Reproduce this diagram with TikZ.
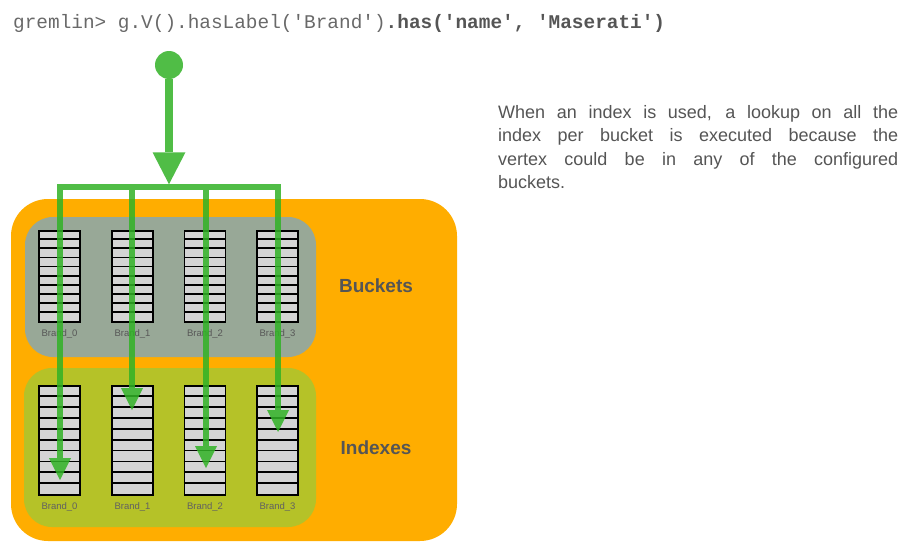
\documentclass[tikz,border=0pt]{standalone}
\usepackage{fontspec}
\setmainfont{Liberation Sans}
\setmonofont{Liberation Mono}
\usetikzlibrary{arrows.meta,positioning}
\definecolor{flowgreen}{RGB}{49,178,38}
\definecolor{boxorange}{RGB}{255,173,0}
\definecolor{bktgray}{RGB}{152,168,151}
\definecolor{idxolive}{RGB}{181,194,40}
\definecolor{cellgray}{RGB}{212,212,212}
\definecolor{textgray}{RGB}{85,85,85}
\definecolor{cmdgray}{RGB}{105,105,105}

\begin{document}
\begin{tikzpicture}[x=1pt,y=-1pt,line join=miter,
      flow/.style={line width=5.5pt,draw=flowgreen,opacity=.85},
      tip/.style={-{Triangle[width=22pt,length=22pt,line width=0pt]}},
      tbl/.style={draw=black,line width=1.8pt,fill=cellgray,minimum width=41pt,inner sep=0pt},
      rowline/.style={draw=black,line width=1.8pt},
      brand/.style={font=\fontsize{9.5}{11}\selectfont,text=black!62,inner sep=1pt},
      tag/.style={font=\bfseries\fontsize{19}{22}\selectfont,text=textgray},
      note/.style={font=\fontsize{18}{22}\selectfont,text=textgray,inner sep=0pt,anchor=base west}]
  \useasboundingbox (0,0) rectangle (913,557);

  \node[anchor=base west,inner sep=0pt,text=textgray,font=\ttfamily\fontsize{19.4}{22}\selectfont] (cmd) at (13,28)
    {\textcolor{cmdgray}{gremlin> g.V().hasLabel('Brand')}\textbf{.has('name', 'Maserati')}};

  \node[note] (note1) at (498,118) {\makebox[400pt][s]{When an index is used, a lookup on all the}};
  \node[note] (note2) at (498,141.5) {\makebox[400pt][s]{index per bucket is executed because the}};
  \node[note] (note3) at (498,165) {\makebox[400pt][s]{vertex could be in any of the configured}};
  \node[note] (note4) at (498,188.5) {buckets.};

  \fill[boxorange,rounded corners=37pt] (11,199) rectangle (457,541);
  \fill[bktgray,rounded corners=28pt] (25,217) rectangle (316,357);
  \fill[idxolive,rounded corners=28pt] (24,368) rectangle (316,527);

  \node[tag] (buckets) at (376,286) {Buckets};
  \node[tag] (indexes) at (376,448) {Indexes};

  \foreach \i/\x in {0/59.5,1/132.5,2/205,3/277.5}{
    \node[tbl,minimum height=91pt,label={[brand,text=black!66,label distance=6pt]below:Brand\_\i}] (bkt\i) at (\x,276.5) {};
    \foreach \k in {1,...,9} \draw[rowline] ([yshift=-\k*9.1pt]bkt\i.north west) -- ++(41,0);
    \node[tbl,minimum height=109pt,label={[brand,label distance=6pt]below:Brand\_\i}] (idx\i) at (\x,440.5) {};
    \foreach \k in {1,...,9} \draw[rowline] ([yshift=-\k*10.9pt]idx\i.north west) -- ++(41,0);
  }

  \node[circle,fill=flowgreen,opacity=.85,minimum size=28pt,inner sep=0pt] (start) at (169,65) {};
  \coordinate (split) at (169,184.25);
  \coordinate (bar0) at (60,187);
  \coordinate (bar3) at (278,187);
  \coordinate (j1) at (132,189.75);
  \coordinate (j2) at (206,189.75);
  \coordinate (t0) at (60,480);
  \coordinate (t1) at (132,410);
  \coordinate (t2) at (206,468);
  \coordinate (t3) at (278,432);

  \draw[flow,line width=8pt,-{Triangle[width=33pt,length=32pt,line width=0pt]}] (start) -- (split);
  \draw[flow,{Triangle[width=22pt,length=22pt,line width=0pt]}-{Triangle[width=22pt,length=22pt,line width=0pt]}] (t0) -- (bar0) -- (bar3) -- (t3);
  \draw[flow,tip] (j1) -- (t1);
  \draw[flow,tip] (j2) -- (t2);
\end{tikzpicture}
\end{document}
